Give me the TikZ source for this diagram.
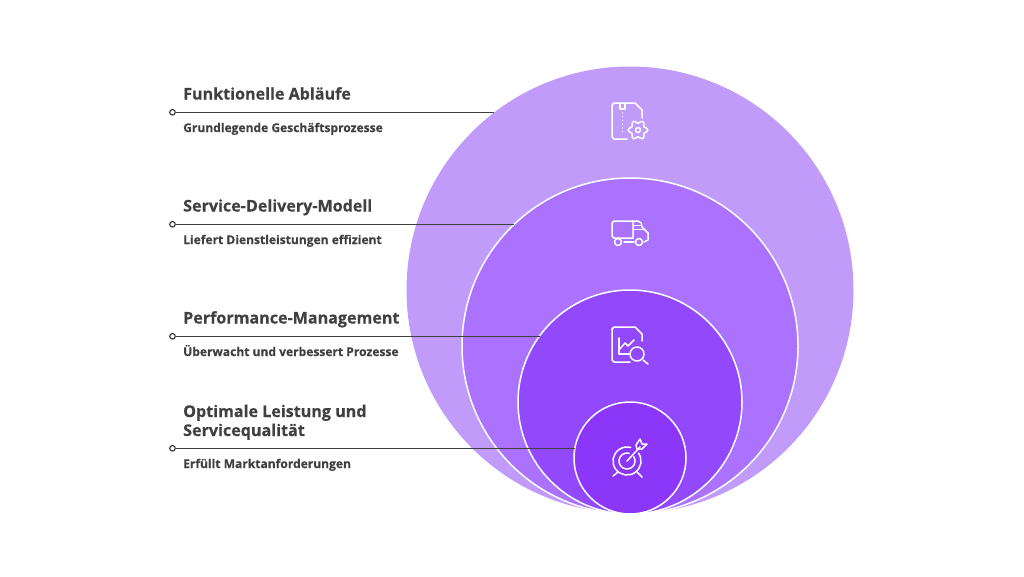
\documentclass[tikz,border=0pt]{standalone}
\usepackage{fontspec}
\setmainfont{Open Sans}
\newfontfamily\fettschrift[FakeBold=0.35]{Open Sans Bold}
\usetikzlibrary{arrows.meta}
\definecolor{ringA}{HTML}{C19BFA}
\definecolor{ringB}{HTML}{AB72FF}
\definecolor{ringC}{HTML}{9249FC}
\definecolor{ringD}{HTML}{8B36F8}
\definecolor{inktext}{HTML}{404040}
\tikzset{
  titel/.style={anchor=base west, inner sep=0pt, font=\fontsize{16.1}{19}\selectfont\fettschrift, text=inktext, align=left},
  untertitel/.style={anchor=base west, inner sep=0pt, font=\fontsize{12.05}{14}\selectfont\fettschrift, text=inktext},
  punkt/.style={circle, draw=inktext, fill=white, line width=1.2pt, inner sep=0pt, minimum size=5.5pt},
  leitung/.style={draw=inktext, line width=1.5pt},
  ring/.style={draw=white, line width=1.5pt},
  icon/.style={draw=white, line width=1.5pt, line cap=round, line join=round},
}
\begin{document}
\begin{tikzpicture}[x=1pt, y=-1pt]
  \useasboundingbox (0,0) rectangle (1024,576);

  % Kreise
  \fill[ringA] (630,290) circle (223.5pt);
  \filldraw[ring, fill=ringB] (630,346) circle (168pt);
  \filldraw[ring, fill=ringC] (630,402) circle (112pt);
  \filldraw[ring, fill=ringD] (630,458) circle (56pt);

  % Endpunkte der Leitungen
  \coordinate (endeA) at (494,112.3);
  \coordinate (endeB) at (514,224.3);
  \coordinate (endeC) at (540,336.3);
  \coordinate (endeD) at (575,448.3);
  \node[punkt] (punktA) at (172.5,112.3) {};
  \node[punkt] (punktB) at (172.5,224.3) {};
  \node[punkt] (punktC) at (172.5,336.3) {};
  \node[punkt] (punktD) at (172.5,448.3) {};
  \draw[leitung] (punktA) -- (endeA);
  \draw[leitung] (punktB) -- (endeB);
  \draw[leitung] (punktC) -- (endeC);
  \draw[leitung] (punktD) -- (endeD);

  % Texte
  \node[titel] (titelA) at (183,99.5) {Funktionelle Abläufe};
  \node[untertitel] (unterA) at (183,132) {Grundlegende Geschäftsprozesse};
  \node[titel] (titelB) at (183,211.5) {Service-Delivery-Modell};
  \node[untertitel] (unterB) at (183,244) {Liefert Dienstleistungen effizient};
  \node[titel] (titelC) at (183,323.5) {Performance-Management};
  \node[untertitel] (unterC) at (183,356) {Überwacht und verbessert Prozesse};
  \node[titel] (titelD) at (183,417) {Optimale Leistung und};
  \node[titel] (titelE) at (183,436) {Servicequalität};
  \node[untertitel] (unterD) at (183,468) {Erfüllt Marktanforderungen};

  % Symbol: Akte mit Zahnrad
  \draw[icon] (627,139) -- (614,139) -- (612,137) -- (612,105) -- (614,103) -- (635,103) -- (642,110) -- (642,118);
  \draw[icon] (620,103) -- (620,109) -- (625,109) -- (625,103);
  \draw[icon, dash pattern=on 0.1pt off 3.6pt] (622.5,113) -- (622.5,135);
  \draw[icon] plot[smooth cycle, samples=37, domain=0:350] ({638+(8.3+1.5*cos(6*\x))*cos(\x)}, {130+(8.3+1.5*cos(6*\x))*sin(\x)});
  \draw[icon] (638,130) circle (2.5pt);

  % Symbol: Lieferwagen
  \draw[icon] (614,238) -- (612,236) -- (612,223) -- (614,221) -- (633,221) -- (633,238) -- (614,238);
  \draw[icon] (633,221) -- (638,221) .. controls (641,221) and (642,224) .. (642,227) -- (648,233) -- (648,240) -- (644,242);
  \draw[icon] (633,225.5) -- (641,225.5);
  \draw[icon] (633,229.5) -- (643,229.5);
  \filldraw[icon, fill=ringB] (618,242) circle (3.5pt);
  \filldraw[icon, fill=ringB] (639,242) circle (3.5pt);
  \draw[icon] (624,242) -- (634,242);

  % Symbol: Bericht mit Lupe
  \draw[icon] (630,362) -- (614,362) -- (612,360) -- (612,329) -- (614,327) -- (635,327) -- (642,334) -- (642,341);
  \draw[icon] (619,338) -- (619,354) -- (629,354);
  \draw[icon] (619,350) -- (625,343) -- (628,346) -- (634,340);
  \filldraw[icon, fill=ringC] (637,354) circle (7pt);
  \draw[icon] (643,360) -- (648,364);

  % Symbol: Zielscheibe
  \draw[icon] (627,461) ++(-35:14) arc[start angle=-35, end angle=285, radius=14];
  \draw[icon] (627,461) ++(-35:8) arc[start angle=-35, end angle=285, radius=8];
  \draw[icon] (627,461) -- (640,447);
  \draw[icon] (636,445) -- (640,439) -- (642,444) -- (647,444) -- (642,449) -- (637,449) -- cycle;
  \draw[icon] (618,472) -- (613,476);
  \draw[icon] (637,472) -- (642,477);
\end{tikzpicture}
\end{document}
